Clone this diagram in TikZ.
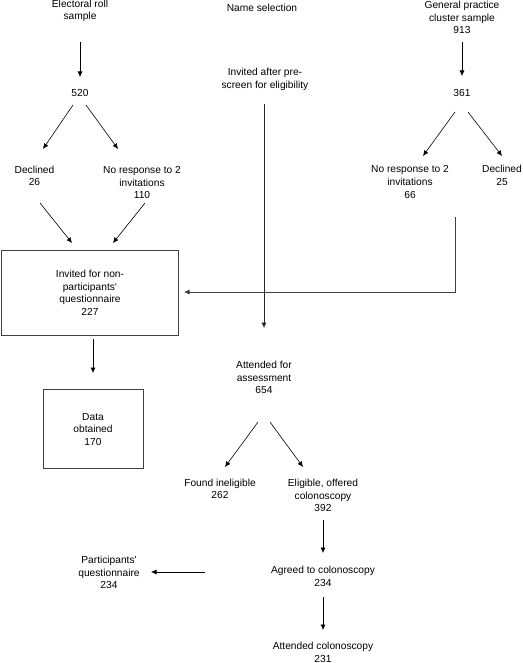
\documentclass[tikz,border=0pt]{standalone}
\usepackage{fontspec}
\setmainfont{Liberation Sans}
\usetikzlibrary{arrows.meta}
\begin{document}
\begin{tikzpicture}[x=1pt,y=-1pt,
  lbl/.style={align=center,inner sep=0pt,font=\fontsize{10.2}{12.6}\selectfont},
  arr/.style={-{Latex[length=5.5pt,width=5pt]},line width=0.6pt},
  boxed/.style={draw,line width=0.7pt,draw=black!75}]
\useasboundingbox (0,0) rectangle (522,663);
% texts
\node[lbl] (er) at (80,11) {Electoral roll\\sample};
\node[lbl] (ns) at (262,8) {Name selection};
\node[lbl] (gp) at (462,17.5) {General practice\\cluster sample\\913};
\node[lbl] (n520) at (80,93) {520};
\node[lbl] (n361) at (462,93) {361};
\node[lbl] (inv) at (265,79.5) {Invited after pre-\\screen for eligibility};
\node[lbl] (dec26) at (34.5,176) {Declined\\26};
\node[lbl] (nr110) at (142,182.5) {No response to 2\\invitations\\110};
\node[lbl] (nr66) at (410,182) {No response to 2\\invitations\\66};
\node[lbl] (dec25) at (502,175.5) {Declined\\25};
\node[boxed,minimum width=176.5pt,minimum height=85pt] (box1) at (89.75,292.5) {};
\node[lbl] (inq) at (90,293) {Invited for non-\\participants‘\\questionnaire\\227};
\node[boxed,minimum width=100pt,minimum height=79pt] (box2) at (93,428.5) {};
\node[lbl] (data) at (93,429.5) {Data\\obtained\\170};
\node[lbl] (att) at (264,377.5) {Attended for\\assessment\\654};
\node[lbl] (inel) at (220,489) {Found ineligible\\262};
\node[lbl] (elig) at (323,495.5) {Eligible, offered\\colonoscopy\\392};
\node[lbl] (agr) at (323,576.5) {Agreed to colonoscopy\\234};
\node[lbl] (pq) at (109,572.5) {Participants\textquotesingle\\questionnaire\\234};
\node[lbl] (attc) at (323,652.5) {Attended colonoscopy\\231};
% connector end points
\coordinate (a1) at (80,42);   \coordinate (a2) at (80,77);
\coordinate (b1) at (73,105);  \coordinate (b2) at (43,149);
\coordinate (c1) at (86,105);  \coordinate (c2) at (118,149);
\coordinate (d1) at (462,42);  \coordinate (d2) at (462,76);
\coordinate (e1) at (455,112); \coordinate (e2) at (423,156);
\coordinate (f1) at (468,112); \coordinate (f2) at (502,156);
\coordinate (g1) at (40,203);  \coordinate (g2) at (72,243);
\coordinate (h1) at (145,203); \coordinate (h2) at (113,243);
\coordinate (i1) at (264,104); \coordinate (i2) at (264,328);
\coordinate (j1) at (455,217); \coordinate (j2) at (455,292); \coordinate (j3) at (184,292);
\coordinate (k1) at (93,339);  \coordinate (k2) at (93,373);
\coordinate (l1) at (258,422); \coordinate (l2) at (225,467);
\coordinate (m1) at (270,422); \coordinate (m2) at (303,467);
\coordinate (o1) at (323,520); \coordinate (o2) at (323,553);
\coordinate (p1) at (205,572); \coordinate (p2) at (151,572);
\coordinate (q1) at (323,597); \coordinate (q2) at (323,630);
% connectors
\draw[arr] (a1) -- (a2);
\draw[arr] (b1) -- (b2);
\draw[arr] (c1) -- (c2);
\draw[arr] (d1) -- (d2);
\draw[arr] (e1) -- (e2);
\draw[arr] (f1) -- (f2);
\draw[arr] (g1) -- (g2);
\draw[arr] (h1) -- (h2);
\draw[arr,draw=black!85] (i1) -- (i2);
\draw[arr,draw=black!75] (j1) -- (j2) -- (j3);
\draw[arr] (k1) -- (k2);
\draw[arr] (l1) -- (l2);
\draw[arr] (m1) -- (m2);
\draw[arr] (o1) -- (o2);
\draw[arr] (p1) -- (p2);
\draw[arr] (q1) -- (q2);
\end{tikzpicture}
\end{document}
